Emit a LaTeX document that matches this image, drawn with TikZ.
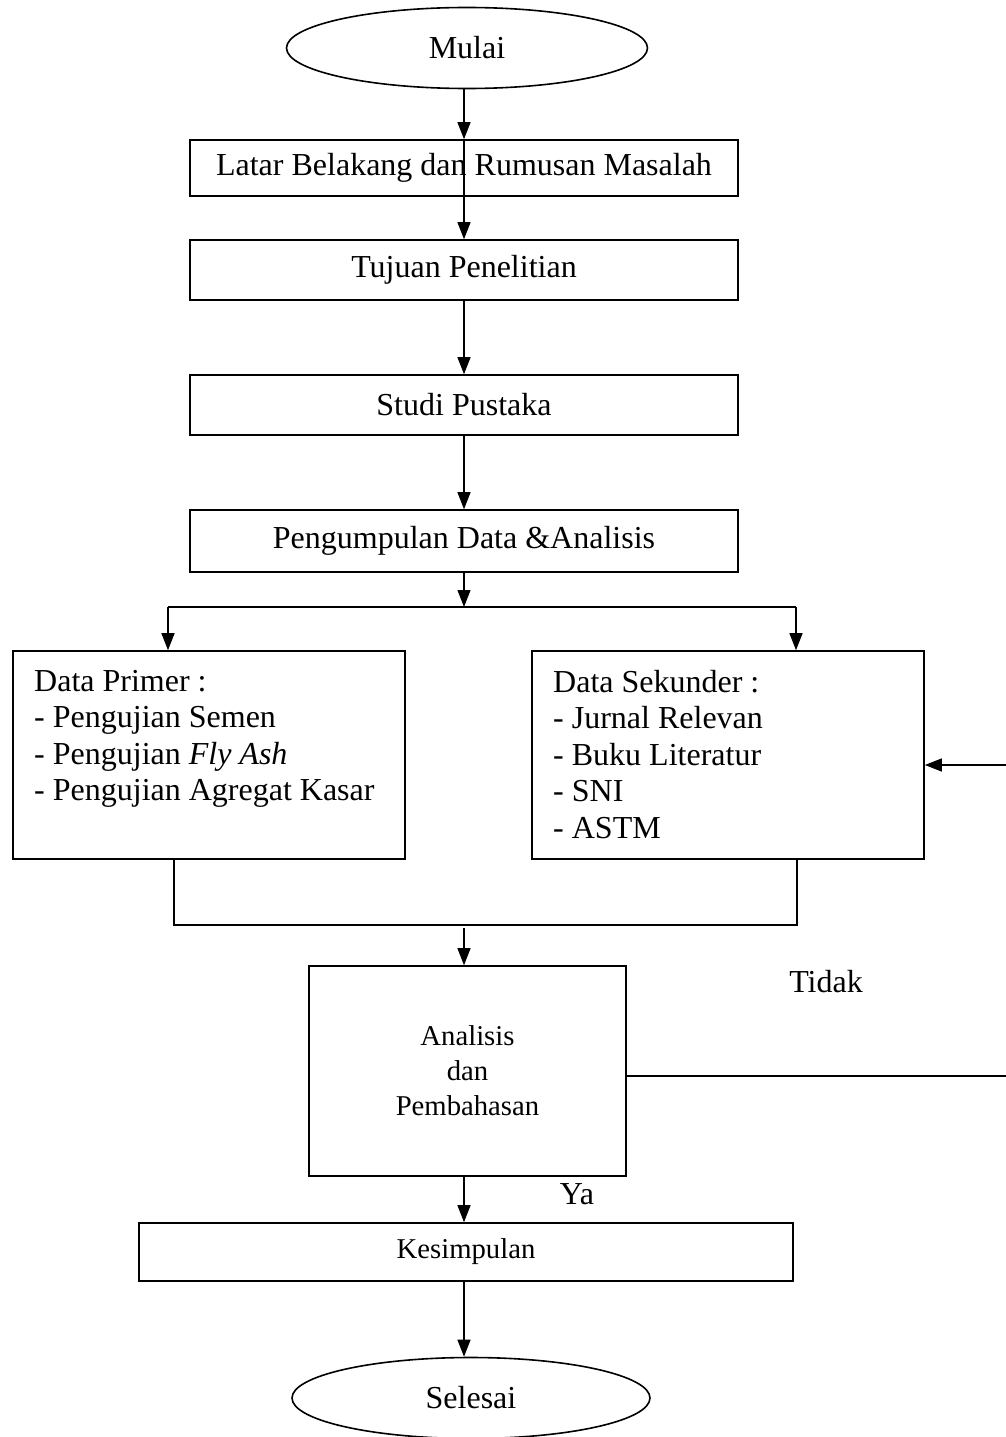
\documentclass[tikz,border=0pt]{standalone}
\usepackage{fontspec}
\setmainfont{Liberation Serif}
\usetikzlibrary{shapes.geometric,arrows.meta}
\tikzset{
  big/.style={font=\fontsize{32}{36.5}\selectfont},
  small/.style={font=\fontsize{28.7}{35}\selectfont},
  terminal/.style={ellipse,draw,line width=1.6pt,minimum width=361pt,minimum height=81pt,inner sep=0pt,big},
  procbox/.style={rectangle,draw,line width=1.6pt,inner sep=0pt},
  arr/.style={-{Triangle[length=17pt,width=13pt]},line width=1.2pt},
  conn/.style={line width=1.2pt}
}
\begin{document}
\begin{tikzpicture}[x=1pt,y=-1pt]
\useasboundingbox (0,0) rectangle (1006,1437);
% start and top column
\node[terminal] (mulai) at (467,48) {Mulai};
\node[procbox,big,minimum width=548pt,minimum height=56pt] (latar) at (464,168) {Latar Belakang dan Rumusan Masalah};
\node[procbox,big,minimum width=548pt,minimum height=60pt] (tujuan) at (464,270) {Tujuan Penelitian};
\node[procbox,big,minimum width=548pt,minimum height=60pt] (studi) at (464,405) {Studi Pustaka};
\node[procbox,big,minimum width=548pt,minimum height=62pt] (kumpul) at (464,541) {Pengumpulan Data \&Analisis};
\draw[arr] (latar.north |- mulai.south) -- (latar.north);
\draw[arr] (latar.north) -- (tujuan.north);
\draw[arr] (tujuan.south) -- (studi.north);
\draw[arr] (studi.south) -- (kumpul.north);
% split into two data boxes
\coordinate (split) at (464,607);
\coordinate (splitL) at (168,607);
\coordinate (splitR) at (796,607);
\draw[arr] (kumpul.south) -- (split);
\draw[conn] (splitL) -- (splitR);
\node[procbox,minimum width=392pt,minimum height=208pt] (primer) at (209,755) {};
\node[procbox,minimum width=392pt,minimum height=208pt] (sekunder) at (728,755) {};
\node[big,align=left,anchor=north west,inner sep=0pt] (primertxt) at (34,670) {Data Primer :\\- Pengujian Semen\\- Pengujian \textit{Fly Ash}\\- Pengujian Agregat Kasar};
\node[big,align=left,anchor=north west,inner sep=0pt] (sekundertxt) at (553,670) {Data Sekunder :\\- Jurnal Relevan\\- Buku Literatur\\- SNI\\- ASTM};
\draw[arr] (splitL) -- (splitL |- primer.north);
\draw[arr] (splitR) -- (splitR |- sekunder.north);
% merge
\coordinate (mergeL) at (174,925);
\coordinate (mergeR) at (797,925);
\coordinate (mergeM) at (464,928);
\draw[conn] (primer.south -| mergeL) -- (mergeL) -- (mergeR) -- (sekunder.south -| mergeR);
\node[procbox,small,align=center,minimum width=317pt,minimum height=210pt] (analisis) at (467.5,1071) {Analisis\\dan\\Pembahasan};
\draw[arr] (mergeM) -- (mergeM |- analisis.north);
% feedback loop (Tidak)
\coordinate (fbTop) at (1006,765);
\coordinate (fbBot) at (1006,1076);
\draw[arr] (fbTop) -- (sekunder.east |- fbTop);
\draw[conn] (analisis.east |- fbBot) -- (fbBot);
\node[big] (tidak) at (826,982) {Tidak};
% end
\node[procbox,small,minimum width=654pt,minimum height=58pt] (simpul) at (466,1252) {Kesimpulan};
\node[big] (ya) at (577,1194) {Ya};
\draw[arr] (mergeM |- analisis.south) -- (mergeM |- simpul.north);
\node[terminal,minimum width=358pt] (selesai) at (471,1398) {Selesai};
\draw[arr] (mergeM |- simpul.south) -- (mergeM |- selesai.north);
\end{tikzpicture}
\end{document}
